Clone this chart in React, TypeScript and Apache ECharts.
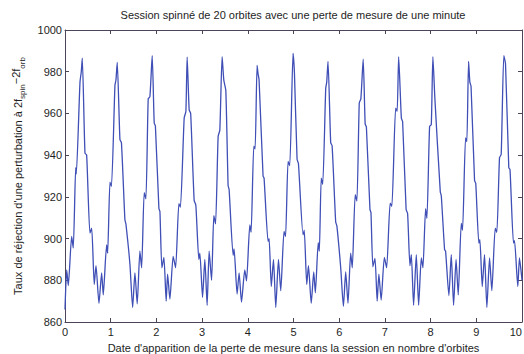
import React, { useEffect, useRef } from "react";
import * as echarts from "echarts";

const chartTitle = "Session spinné de 20 orbites avec une perte de mesure de une minute";
const xAxisName = "Date d'apparition de la perte de mesure dans la session en nombre d'orbites";

const xTickMin = 0;
const xTickMax = 10;
const xTickStep = 1;
const yTickMin = 860;
const yTickMax = 1000;
const yTickStep = 20;

// Date of the measurement loss (in orbits)
const lossDate = [
  0, 0.037, 0.072, 0.146, 0.181, 0.234, 0.247, 0.328, 0.356, 0.378,
  0.437, 0.474, 0.546, 0.584, 0.640, 0.678, 0.743, 0.802, 0.837, 0.911,
  0.933, 0.984, 1.016, 1.093, 1.115, 1.143, 1.202, 1.235, 1.311, 1.333,
  1.421, 1.480, 1.530, 1.580, 1.639, 1.677, 1.733, 1.770, 1.821, 1.858,
  1.908, 1.952, 1.978, 2.055, 2.077, 2.120, 2.164, 2.214, 2.245, 2.295,
  2.367, 2.420, 2.492, 2.525, 2.608, 2.645, 2.673, 2.717, 2.750, 2.826,
  2.863, 2.929, 2.951, 3.010, 3.060, 3.110, 3.154, 3.207, 3.257, 3.294,
  3.351, 3.388, 3.438, 3.475, 3.519, 3.569, 3.591, 3.679, 3.700, 3.766,
  3.810, 3.862, 3.934, 3.972, 4.044, 4.072, 4.131, 4.160, 4.203, 4.225,
  4.247, 4.334, 4.356, 4.444, 4.466, 4.514, 4.562, 4.612, 4.671, 4.721,
  4.793, 4.826, 4.881, 4.918, 4.990, 5.021, 5.078, 5.108, 5.209, 5.235,
  5.290, 5.327, 5.388, 5.443, 5.478, 5.541, 5.565, 5.607, 5.639, 5.705,
  5.727, 5.755, 5.814, 5.845, 5.923, 5.950, 6.033, 6.092, 6.142, 6.192,
  6.251, 6.286, 6.350, 6.387, 6.439, 6.474, 6.525, 6.568, 6.595, 6.673,
  6.695, 6.737, 6.783, 6.831, 6.868, 6.918, 6.988, 7.038, 7.115, 7.152,
  7.235, 7.268, 7.301, 7.360, 7.388, 7.464, 7.497, 7.548, 7.578, 7.628,
  7.687, 7.738, 7.797, 7.832, 7.891, 7.919, 7.978, 8.015, 8.050, 8.094,
  8.212, 8.234, 8.306, 8.328, 8.400, 8.452, 8.503, 8.557, 8.605, 8.671,
  8.699, 8.765, 8.793, 8.831, 8.859, 8.885, 8.962, 8.988, 9.056, 9.078,
  9.130, 9.180, 9.231, 9.290, 9.340, 9.414, 9.449, 9.508, 9.545, 9.602,
  9.639, 9.711, 9.738, 9.814, 9.836, 9.908, 9.945, 10,
];

// Rejection rate of the 2f_spin - 2f_orb perturbation
const rejectionRate = [
  866, 885, 877.5, 901, 895.5, 934, 931, 975, 980, 986.5,
  941, 940, 902.6, 905, 878, 887, 869, 883.6, 873, 897,
  893, 927, 925, 973.5, 976, 984.5, 947.5, 946, 909, 907,
  887.6, 867, 883.6, 868.7, 894, 886, 922, 919, 967, 968,
  987.7, 955.4, 954, 914.4, 913, 886, 891, 870, 883, 871,
  891.5, 886, 916.8, 915, 957.8, 960.9, 987, 961.7, 960, 918.3,
  916, 890, 893, 871.8, 890, 868, 894, 880, 911, 907,
  949, 952, 987.2, 976, 971, 925.4, 923.5, 892, 895, 873.4,
  883.6, 869.5, 885, 879.7, 906.5, 903, 944.3, 943, 983, 979,
  976, 930, 929, 898.7, 900, 877, 890, 867, 890, 875,
  903.4, 901, 937, 935, 988.8, 979, 938, 936, 901.8, 904,
  878, 887, 869, 884, 874, 898, 894, 929, 926, 972,
  975, 985, 946, 944.5, 908, 906, 886, 867.5, 884, 869,
  893, 886, 921, 918, 965, 967, 986, 955, 953.5, 914,
  912.5, 886.5, 890.5, 870, 883, 870.5, 891, 886, 917, 915.5,
  962.5, 961, 987.2, 957.8, 956, 914, 912, 887, 892.3, 868,
  892.3, 868, 890.7, 886, 914.4, 909.7, 953.8, 954.6, 987.2, 967,
  922.4, 920.5, 894.7, 894, 872.7, 892.3, 868, 890, 873, 907.3,
  904, 948.3, 946.5, 985, 975, 973, 927.8, 926.5, 897.8, 899.5,
  877, 892.3, 867, 890.7, 875, 905, 903, 938.8, 940.4, 987.7,
  983.8, 934, 933, 897.8, 899, 877, 890.7, 880,
];

const FONT = "'Liberation Sans', Arial, Helvetica, sans-serif";
const FRAME = "#4d4458";
const TEXT = "#1e1e1e";
const LINE = "#3f4fb6";

export default function App() {
  const ref = useRef<HTMLDivElement>(null);

  useEffect(() => {
    if (!ref.current) return;
    const chart = echarts.init(ref.current, undefined, { renderer: "svg" });
    const data = lossDate.map((x, i) => [x, rejectionRate[i]]);

    const axisLine = { show: true, onZero: false, lineStyle: { color: FRAME, width: 1 } };
    const axisTick = { show: true, inside: true, length: 4, lineStyle: { color: FRAME, width: 1 } };
    const plain = (v: number) => String(v);

    chart.setOption({
      animation: false,
      backgroundColor: "#ffffff",
      textStyle: { fontFamily: FONT },
      grid: {
        left: 65,
        right: 2,
        top: 30,
        bottom: 32,
        containLabel: false,
        outerBoundsMode: "none",
      },
      graphic: [
        {
          type: "text",
          x: 293,
          y: 15,
          style: {
            text: chartTitle,
            fontSize: 11,
            fontFamily: FONT,
            fill: TEXT,
            align: "center",
            verticalAlign: "middle",
          },
        },
      ],
      xAxis: [
        {
          type: "value",
          min: xTickMin,
          max: xTickMax,
          interval: xTickStep,
          position: "bottom",
          axisLine,
          axisTick,
          splitLine: { show: false },
          axisLabel: {
            color: TEXT,
            fontSize: 11,
            margin: 4,
            fontFamily: FONT,
            formatter: plain,
            alignMaxLabel: "right",
          },
          name: xAxisName,
          nameLocation: "middle",
          nameGap: 20,
          nameTextStyle: { color: TEXT, fontSize: 11, fontFamily: FONT },
        },
        {
          type: "value",
          min: xTickMin,
          max: xTickMax,
          interval: xTickStep,
          position: "top",
          axisLine,
          axisTick,
          splitLine: { show: false },
          axisLabel: { show: false },
        },
      ],
      yAxis: [
        {
          type: "value",
          min: yTickMin,
          max: yTickMax,
          interval: yTickStep,
          position: "left",
          axisLine,
          axisTick,
          splitLine: { show: false },
          axisLabel: { color: TEXT, fontSize: 11, margin: 3, fontFamily: FONT, formatter: plain },
          name: "{m|Taux de réjection d'une perturbation à 2f}{s|spin}{u|−2f}{s|orb}",
          nameLocation: "middle",
          nameGap: 39,
          nameTextStyle: {
            color: TEXT,
            fontFamily: FONT,
            rich: {
              m: { fontSize: 11, fontFamily: FONT, color: TEXT, lineHeight: 16, verticalAlign: "middle" },
              u: { fontSize: 11, fontFamily: FONT, color: TEXT, lineHeight: 12, verticalAlign: "top" },
              s: { fontSize: 8, fontFamily: FONT, color: TEXT, lineHeight: 8, verticalAlign: "bottom" },
            },
          },
        },
        {
          type: "value",
          min: yTickMin,
          max: yTickMax,
          interval: yTickStep,
          position: "right",
          axisLine,
          axisTick,
          splitLine: { show: false },
          axisLabel: { show: false },
        },
      ],
      series: [
        {
          type: "line",
          xAxisIndex: 0,
          yAxisIndex: 0,
          data,
          showSymbol: false,
          symbol: "none",
          smooth: 0.2,
          lineStyle: { color: LINE, width: 1.3 },
          silent: true,
        },
      ],
    });

    return () => chart.dispose();
  }, []);

  return (
    <div
      ref={ref}
      style={{ position: "fixed", left: 0, top: 0, width: 524, height: 354, background: "#fff" }}
    />
  );
}
